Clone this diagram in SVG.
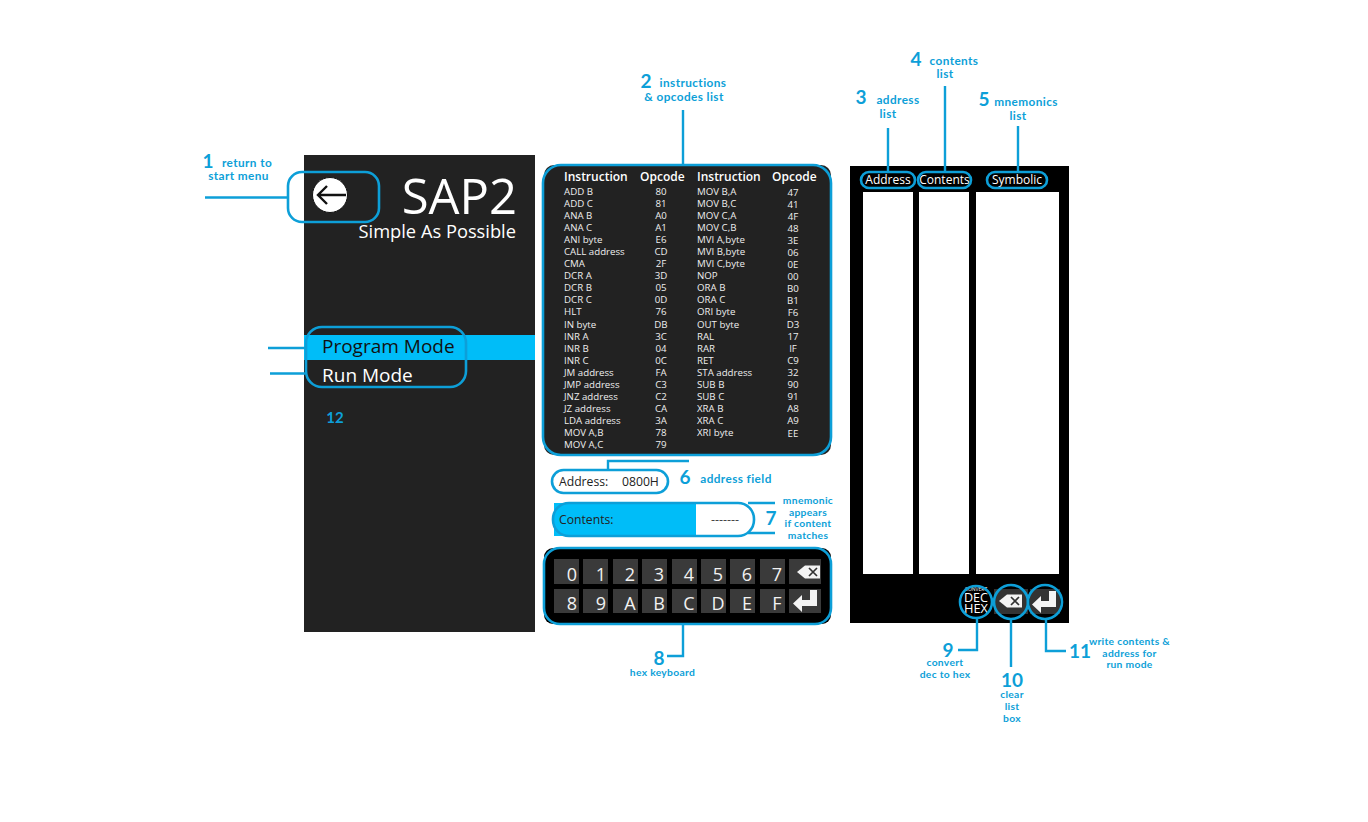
<svg xmlns="http://www.w3.org/2000/svg" width="1368" height="822" viewBox="0 0 1368 822">
<style>
text{font-family:"Open Sans","Noto Sans","Liberation Sans",sans-serif}
.w{fill:#fff}
.t{font-size:9.7px;fill:#eee}
.h{font-size:12px;font-weight:600;fill:#fff}
.m{text-anchor:middle}
.c{font-family:"Lato","Noto Sans",sans-serif;font-weight:700;fill:#0d9fd8;font-size:11.800px;text-anchor:middle;letter-spacing:.4px}
.s{font-size:10.300px;letter-spacing:.3px}
.n{font-family:"Lato","Noto Sans",sans-serif;font-weight:700;fill:#0d9fd8;font-size:19px;text-anchor:middle}
.o{fill:none;stroke:#0d9fd8;stroke-width:2.6}
.l{fill:none;stroke:#0d9fd8;stroke-width:2.4}
.k{fill:#3a3a3a}
.kt{font-size:18px;fill:#f2f2f2;text-anchor:middle}
.bs{fill:#f4f4f4}
</style>
<defs>
<g id="bk"><path class="bs" d="M0 0L8 -6.500H23V6.500H8Z"/><path d="M12 -4L20 4M20 -4L12 4" stroke="#333" stroke-width="1.700" fill="none"/></g>
<path id="en" class="bs" d="M17 -11H24V5H9V11L0 2.500L9 -6V-1H17Z"/>
</defs>
<rect width="1368" height="822" fill="#fff"/>

<g id="panel-start">
<rect x="304" y="155" width="231" height="477" fill="#222"/>
<rect x="304" y="335" width="231" height="25" fill="#00bdf8"/>
<circle cx="330" cy="195" r="17.500" fill="#fff" stroke="#111" stroke-width="1"/>
<path d="M346 195H318M327 186L318 195L327 204" fill="none" stroke="#111" stroke-width="2.400"/>
<text x="517" y="214" font-size="49" class="w" text-anchor="end">SAP2</text>
<text x="516" y="238" font-size="18.300" class="w" text-anchor="end">Simple As Possible</text>
<text x="322" y="353" font-size="19" fill="#111">Program Mode</text>
<text x="322" y="382" font-size="19" class="w">Run Mode</text>
</g>

<g id="panel-instructions">
<rect x="544" y="165" width="287" height="290" rx="10" fill="#222"/>
<g class="h"><text x="564" y="181">Instruction</text><text x="640" y="181">Opcode</text><text x="697" y="181">Instruction</text><text x="772" y="181">Opcode</text></g>
<g class="t">
<text x="564" y="195">ADD B</text><text x="564" y="207">ADD C</text><text x="564" y="219">ANA B</text><text x="564" y="231">ANA C</text><text x="564" y="243">ANI byte</text><text x="564" y="255">CALL address</text><text x="564" y="267">CMA</text><text x="564" y="279">DCR A</text><text x="564" y="291">DCR B</text><text x="564" y="303">DCR C</text><text x="564" y="315">HLT</text><text x="564" y="328">IN byte</text><text x="564" y="340">INR A</text><text x="564" y="352">INR B</text><text x="564" y="364">INR C</text><text x="564" y="376">JM address</text><text x="564" y="388">JMP address</text><text x="564" y="400">JNZ address</text><text x="564" y="412">JZ address</text><text x="564" y="424">LDA address</text><text x="564" y="436">MOV A,B</text><text x="564" y="448">MOV A,C</text>
</g>
<g class="t m">
<text x="661" y="195">80</text><text x="661" y="207">81</text><text x="661" y="219">A0</text><text x="661" y="231">A1</text><text x="661" y="243">E6</text><text x="661" y="255">CD</text><text x="661" y="267">2F</text><text x="661" y="279">3D</text><text x="661" y="291">05</text><text x="661" y="303">0D</text><text x="661" y="315">76</text><text x="661" y="328">DB</text><text x="661" y="340">3C</text><text x="661" y="352">04</text><text x="661" y="364">0C</text><text x="661" y="376">FA</text><text x="661" y="388">C3</text><text x="661" y="400">C2</text><text x="661" y="412">CA</text><text x="661" y="424">3A</text><text x="661" y="436">78</text><text x="661" y="448">79</text>
</g>
<g class="t">
<text x="697" y="195">MOV B,A</text><text x="697" y="207">MOV B,C</text><text x="697" y="219">MOV C,A</text><text x="697" y="231">MOV C,B</text><text x="697" y="243">MVI A,byte</text><text x="697" y="255">MVI B,byte</text><text x="697" y="267">MVI C,byte</text><text x="697" y="279">NOP</text><text x="697" y="291">ORA B</text><text x="697" y="303">ORA C</text><text x="697" y="315">ORI byte</text><text x="697" y="328">OUT byte</text><text x="697" y="340">RAL</text><text x="697" y="352">RAR</text><text x="697" y="364">RET</text><text x="697" y="376">STA address</text><text x="697" y="388">SUB B</text><text x="697" y="400">SUB C</text><text x="697" y="412">XRA B</text><text x="697" y="424">XRA C</text><text x="697" y="436">XRI byte</text>
</g>
<g class="t m">
<text x="793" y="196">47</text><text x="793" y="208">41</text><text x="793" y="220">4F</text><text x="793" y="232">48</text><text x="793" y="244">3E</text><text x="793" y="256">06</text><text x="793" y="268">0E</text><text x="793" y="280">00</text><text x="793" y="292">B0</text><text x="793" y="304">B1</text><text x="793" y="316">F6</text><text x="793" y="328">D3</text><text x="793" y="340">17</text><text x="793" y="352">IF</text><text x="793" y="364">C9</text><text x="793" y="376">32</text><text x="793" y="388">90</text><text x="793" y="400">91</text><text x="793" y="412">A8</text><text x="793" y="424">A9</text><text x="793" y="437">EE</text>
</g>
</g>

<g id="field-address">
<rect x="552" y="470" width="116" height="23" rx="11.500" fill="#fff"/>
<text x="559" y="486" font-size="12.200" fill="#222">Address:</text>
<text x="622" y="486" font-size="12.200" fill="#222">0800H</text>
</g>

<g id="field-contents">
<rect x="554" y="503" width="142" height="33" fill="#00bdf8"/>
<text x="559" y="524" font-size="12.200" fill="#222">Contents:</text>
<text x="725" y="524" font-size="12.500" fill="#444" class="m">-------</text>
</g>

<g id="keyboard">
<rect x="544" y="548" width="287" height="76" rx="9" fill="#000"/>
<g>
<rect class="k" x="554" y="559" width="25" height="25"/><rect class="k" x="583" y="559" width="25" height="25"/><rect class="k" x="613" y="559" width="25" height="25"/><rect class="k" x="642" y="559" width="25" height="25"/><rect class="k" x="672" y="559" width="25" height="25"/><rect class="k" x="701" y="559" width="25" height="25"/><rect class="k" x="730" y="559" width="25" height="25"/><rect class="k" x="760" y="559" width="25" height="25"/><rect class="k" x="789" y="559" width="32" height="25"/>
<rect class="k" x="554" y="589" width="25" height="24"/><rect class="k" x="583" y="589" width="25" height="24"/><rect class="k" x="613" y="589" width="25" height="24"/><rect class="k" x="642" y="589" width="25" height="24"/><rect class="k" x="672" y="589" width="25" height="24"/><rect class="k" x="701" y="589" width="25" height="24"/><rect class="k" x="730" y="589" width="25" height="24"/><rect class="k" x="760" y="589" width="25" height="24"/><rect class="k" x="789" y="589" width="32" height="24"/>
</g>
<g>
<text class="kt" x="572" y="581">0</text><text class="kt" x="601" y="581">1</text><text class="kt" x="630" y="581">2</text><text class="kt" x="659" y="581">3</text><text class="kt" x="689" y="581">4</text><text class="kt" x="718" y="581">5</text><text class="kt" x="747" y="581">6</text><text class="kt" x="777" y="581">7</text>
<text class="kt" x="572" y="610">8</text><text class="kt" x="601" y="610">9</text><text class="kt" x="630" y="610">A</text><text class="kt" x="659" y="610">B</text><text class="kt" x="689" y="610">C</text><text class="kt" x="718" y="610">D</text><text class="kt" x="747" y="610">E</text><text class="kt" x="777" y="610">F</text>
</g>
<use href="#bk" x="797" y="572"/>
<use href="#en" x="793" y="601"/>
</g>

<g id="panel-lists">
<rect x="850" y="166" width="219" height="457" fill="#000"/>
<rect x="863" y="192" width="50" height="382" fill="#fff"/>
<rect x="919" y="192" width="50" height="382" fill="#fff"/>
<rect x="976" y="192" width="83" height="382" fill="#fff"/>
<text x="888" y="184" font-size="12" class="w m">Address</text>
<text x="944.500" y="184" font-size="12" class="w m">Contents</text>
<text x="1017" y="184" font-size="12" class="w m">Symbolic</text>
</g>

<g id="btn-convert">
<text x="976" y="591" font-size="5" class="w m">CONVERT</text>
<text x="976" y="602" font-size="13.500" class="w m" textLength="24" lengthAdjust="spacingAndGlyphs">DEC</text>
<text x="976" y="613" font-size="13.500" class="w m" textLength="24" lengthAdjust="spacingAndGlyphs">HEX</text>
</g>
<g id="btn-clear">
<rect x="994" y="589" width="34" height="25" fill="#333"/>
<use href="#bk" x="999" y="601"/>
</g>
<g id="btn-write">
<rect x="1030" y="589" width="30" height="25" fill="#333"/>
<use href="#en" x="1032" y="602"/>
</g>

<g id="connectors">
<rect class="o" x="288" y="172" width="91" height="50" rx="14"/>
<path class="l" d="M205 197.500H288"/>
<rect class="o" x="306" y="327" width="160" height="60" rx="16"/>
<path class="l" d="M268 348H305M270 373.500H305"/>
<rect class="o" x="543" y="165" width="288" height="290" rx="18"/>
<path class="l" d="M683 110V165"/>
<rect class="o" x="552" y="470" width="116" height="23" rx="11.500"/>
<path class="l" d="M689 461H608V470"/>
<rect class="o" x="553" y="503" width="201" height="33" rx="16"/>
<path class="l" d="M748 503H775M748 533H775"/>
<rect class="o" x="544" y="548" width="287" height="76" rx="16"/>
<path class="l" d="M683 624V656H667"/>
<rect class="o" x="861" y="172" width="54" height="16" rx="8"/>
<rect class="o" x="918" y="172" width="53" height="16" rx="8"/>
<rect class="o" x="987" y="172" width="60" height="16" rx="8"/>
<path class="l" d="M888 128V172M945 86V172M1018 126V172"/>
<circle class="o" cx="976" cy="602" r="16"/>
<circle class="o" cx="1011" cy="602" r="17"/>
<circle class="o" cx="1045" cy="602" r="17"/>
<path class="l" d="M977 618V650H958M1011 619V667M1046 619V651H1066"/>
</g>

<g id="labels">
<text class="n" x="208" y="168">1</text><text class="c" x="247" y="167">return to</text>
<text class="c" x="238.500" y="180">start menu</text>
<text class="n" x="335" y="423" font-size="15" style="font-size:15px">12</text>
<text class="n" x="646" y="88">2</text><text class="c" x="693" y="87">instructions</text>
<text class="c" x="684" y="101">&amp; opcodes list</text>
<text class="n" x="861" y="104">3</text><text class="c" x="898" y="104">address</text>
<text class="c" x="888" y="118">list</text>
<text class="n" x="916" y="66">4</text><text class="c" x="954" y="65">contents</text>
<text class="c" x="945" y="78">list</text>
<text class="n" x="984" y="106">5</text><text class="c" x="1026" y="106">mnemonics</text>
<text class="c" x="1018" y="120">list</text>
<text class="n" x="685" y="484">6</text><text class="c" x="736" y="483">address field</text>
<text class="n" x="771" y="525">7</text>
<text class="c s" x="808" y="504">mnemonic</text><text class="c s" x="808" y="516">appears</text><text class="c s" x="808" y="527">if content</text><text class="c s" x="808" y="539">matches</text>
<text class="n" x="659" y="665">8</text><text class="c s" x="662.500" y="676">hex keyboard</text>
<text class="n" x="948" y="657">9</text><text class="c s" x="945" y="666">convert</text><text class="c s" x="945" y="678">dec to hex</text>
<text class="n" x="1012" y="687">10</text><text class="c s" x="1012" y="698">clear</text><text class="c s" x="1012" y="710">list</text><text class="c s" x="1012" y="722">box</text>
<text class="n" x="1080" y="658">11</text><text class="c s" x="1129.500" y="645">write contents &amp;</text><text class="c s" x="1129.500" y="657">address for</text><text class="c s" x="1129.500" y="668">run mode</text>
</g>
</svg>
